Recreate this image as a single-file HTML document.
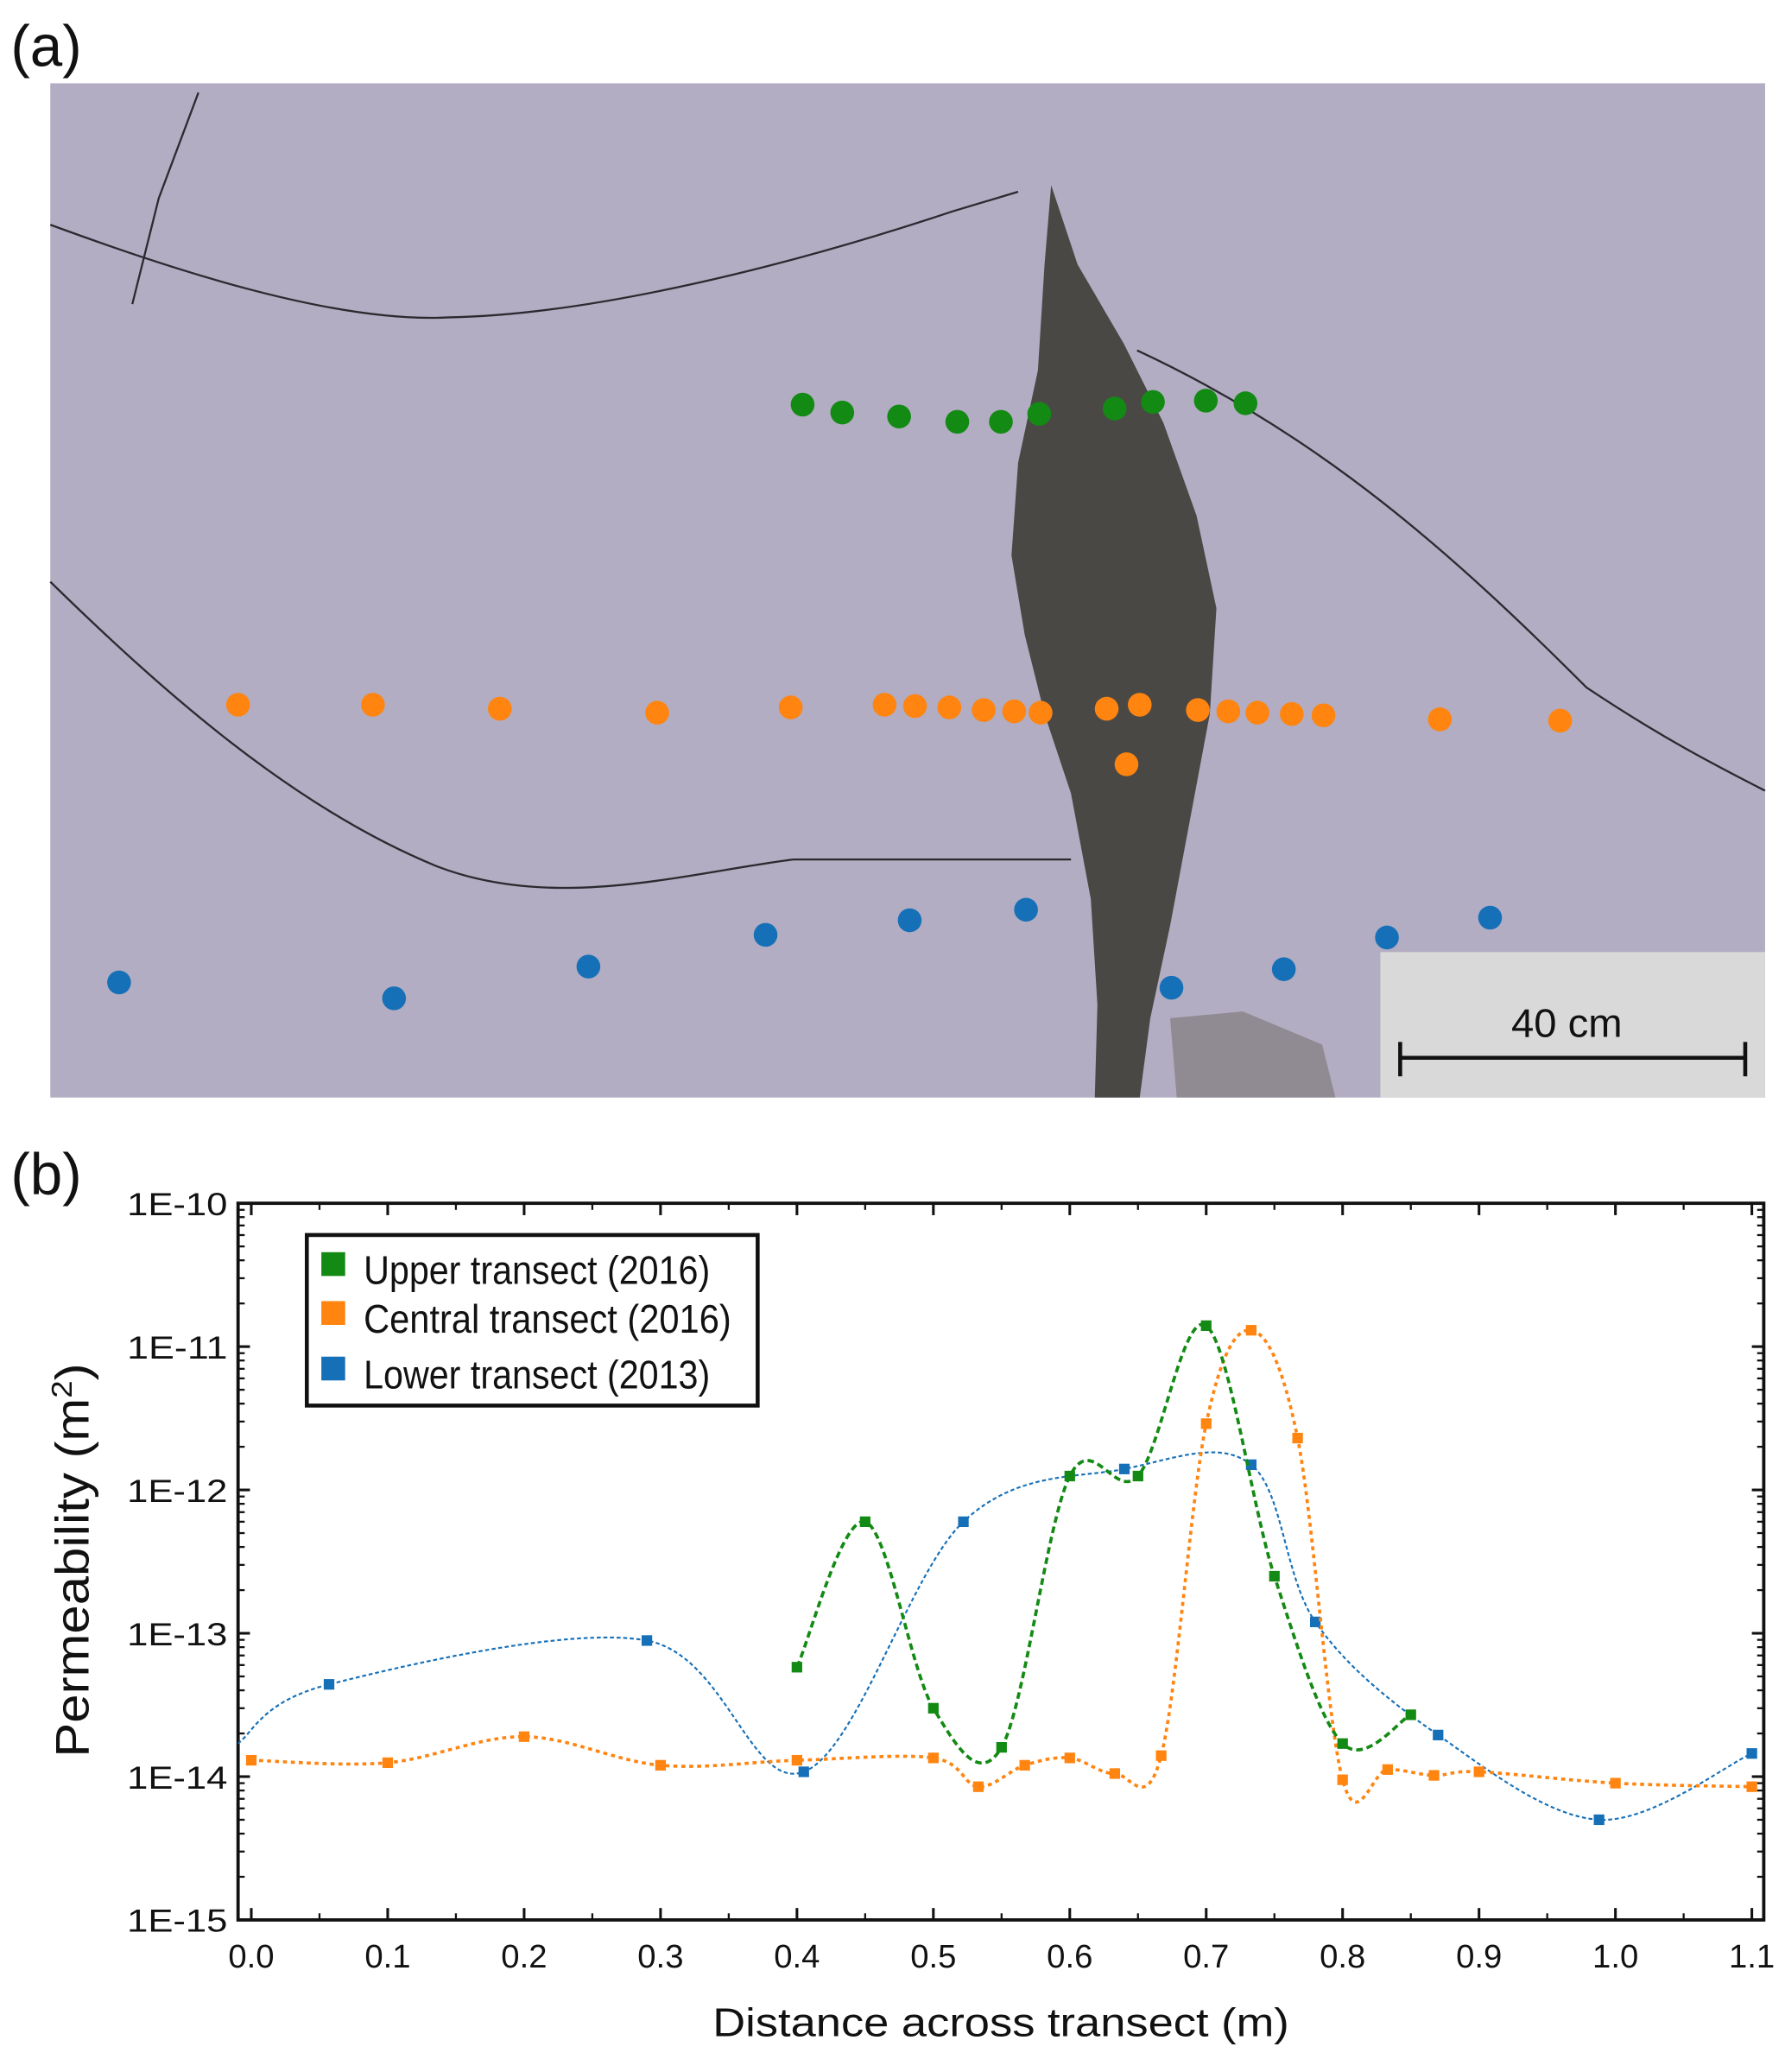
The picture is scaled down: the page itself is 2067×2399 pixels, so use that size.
<!DOCTYPE html>
<html><head><meta charset="utf-8"><style>
html,body{margin:0;padding:0;background:#fff;}
svg{display:block;}
text{font-family:"Liberation Sans",Arial,sans-serif;fill:#111;}
</style></head><body>
<svg id="fig" width="2067" height="2399" viewBox="0 0 1350 1567" xmlns="http://www.w3.org/2000/svg">
<text x="8" y="50" font-size="44">(a)</text>
<g>
 <rect x="38" y="63" width="1297" height="767" fill="#aca8bd"/>
 <rect x="38" y="63" width="1297" height="767" fill="#bcb8cc" opacity="0.35"/>
 <polygon fill="#3b3a33" opacity="0.88" points="795,140 815,200 850,260 880,320 905,390 920,460 915,540 900,620 885,700 870,770 862,830 828,830 830,760 825,680 810,600 790,540 775,480 765,420 770,350 785,280 790,200"/>
 <polygon fill="#6d6a62" opacity="0.5" points="885,770 940,765 1000,790 1010,830 890,830"/>
 <g fill="none" stroke="#2a2a30" stroke-width="1.5">
  <path d="M38,170 C120,200 250,245 340,240 C450,238 600,200 720,160 L770,145"/>
  <path d="M38,440 C120,520 220,610 330,655 C420,690 520,660 600,650 L810,650"/>
  <path d="M860,265 C1000,330 1100,420 1200,520 C1260,560 1300,580 1335,598"/>
  <path d="M150,70 L120,150 L100,230"/>
 </g>
 <rect x="1044" y="720" width="291" height="110" fill="#d9d9d9"/>
 <text x="1185" y="784" font-size="30" text-anchor="middle" textLength="84" lengthAdjust="spacingAndGlyphs">40 cm</text>
 <g stroke="#111" stroke-width="3">
  <line x1="1059" y1="800" x2="1320" y2="800"/><line x1="1059" y1="788" x2="1059" y2="814"/><line x1="1320" y1="788" x2="1320" y2="814"/>
 </g>
 <g id="dots"></g>
</g>
<text x="8" y="903" font-size="44">(b)</text>
<g id="chart"></g>
</svg>
<script>
// photo sample dots (display coordinates on photo)
const greenDotsX=[607,637,680,724,757,786,843,872,912,942];
const greenDotsY=[306,312,315,319,319,313,309,304,303,305];
const orangeDotsX=[180,282,378,497,598,669,692,718,744,767,787,837,862,906,929,951,977,1001,1089,1180,852];
const orangeDotsY=[533,533,536,539,535,533,534,535,537,538,539,536,533,537,538,539,540,541,544,545,578];
const blueDotsX=[90,298,445,579,688,776,886,971,1049,1127];
const blueDotsY=[743,755,731,707,696,688,747,733,709,694];

// chart data
const xTicks=[0,0.1,0.2,0.3,0.4,0.5,0.6,0.7,0.8,0.9,1.0,1.1];
const yTickExp=[-10,-11,-12,-13,-14,-15];
const upperX=[0.40,0.45,0.50,0.55,0.60,0.65,0.70,0.75,0.80,0.85];
const upperY=[5.8e-14,6e-13,3e-14,1.6e-14,1.25e-12,1.25e-12,1.4e-11,2.5e-13,1.7e-14,2.7e-14];
const centralX=[0.0,0.1,0.2,0.3,0.4,0.5,0.533,0.567,0.6,0.633,0.667,0.70,0.733,0.767,0.80,0.833,0.867,0.90,1.0,1.1];
const centralY=[1.3e-14,1.25e-14,1.9e-14,1.2e-14,1.3e-14,1.35e-14,8.5e-15,1.2e-14,1.35e-14,1.05e-14,1.4e-14,2.9e-12,1.3e-11,2.3e-12,9.5e-15,1.12e-14,1.02e-14,1.08e-14,9e-15,8.5e-15];
const lowerX=[-0.01,0.057,0.29,0.405,0.522,0.64,0.733,0.78,0.87,0.988,1.1];
const lowerY=[1.7e-14,4.4e-14,8.9e-14,1.08e-14,6e-13,1.4e-12,1.5e-12,1.2e-13,1.95e-14,5e-15,1.45e-14];

const NS="http://www.w3.org/2000/svg";
const L=180,R=1334,T=910,B=1452;
function xs(v){return 190+v*(1325-190)/1.1;}
function ys(v){return T+(-10-Math.log10(v))*108.4;}
function mk(tag,attrs,parent){const e=document.createElementNS(NS,tag);for(const k in attrs)e.setAttribute(k,attrs[k]);parent.appendChild(e);return e;}

const dots=document.getElementById('dots');
function drawDots(xa,ya,col,name){
 for(let i=0;i<xa.length;i++){
  const c=mk('circle',{cx:xa[i],cy:ya[i],r:9,fill:col},dots);
  
  
 }
}
drawDots(greenDotsX,greenDotsY,'#138a13','upper-sample-dot');
drawDots(orangeDotsX,orangeDotsY,'#ff8410','central-sample-dot');
drawDots(blueDotsX,blueDotsY,'#1670b8','lower-sample-dot');

const ch=document.getElementById('chart');
const clip=mk('clipPath',{id:'pc'},ch);mk('rect',{x:L,y:T,width:R-L,height:B-T},clip);
const frame=mk('rect',{x:L,y:T,width:R-L,height:B-T,fill:'none',stroke:'#111','stroke-width':2.5},ch);


for(let i=0;i<xTicks.length;i++){
 const x=xs(xTicks[i]);
 mk('line',{x1:x,y1:B,x2:x,y2:B-9,stroke:'#111','stroke-width':2},ch);
 mk('line',{x1:x,y1:T,x2:x,y2:T+9,stroke:'#111','stroke-width':2},ch);
 if(i<xTicks.length-1){const xm=xs(xTicks[i]+0.05);
  mk('line',{x1:xm,y1:B,x2:xm,y2:B-5,stroke:'#111','stroke-width':1.5},ch);
  mk('line',{x1:xm,y1:T,x2:xm,y2:T+5,stroke:'#111','stroke-width':1.5},ch);}
 const t=mk('text',{x:x,y:B+36,'font-size':25,'text-anchor':'middle'},ch);
 t.textContent=xTicks[i].toFixed(1);
 
 
}
for(let i=0;i<yTickExp.length;i++){
 const y=ys(Math.pow(10,yTickExp[i]));
 mk('line',{x1:L,y1:y,x2:L+9,y2:y,stroke:'#111','stroke-width':2},ch);
 mk('line',{x1:R,y1:y,x2:R-9,y2:y,stroke:'#111','stroke-width':2},ch);
 if(yTickExp[i]>-15){for(let m=2;m<=9;m++){const ym=ys(m*Math.pow(10,yTickExp[i]-1));
  mk('line',{x1:L,y1:ym,x2:L+5,y2:ym,stroke:'#111','stroke-width':1.5},ch);
  mk('line',{x1:R,y1:ym,x2:R-5,y2:ym,stroke:'#111','stroke-width':1.5},ch);}}
 const t=mk('text',{x:L-8,y:y+9,'font-size':24,'text-anchor':'end',textLength:76,lengthAdjust:'spacingAndGlyphs'},ch);
 t.textContent='1E'+yTickExp[i];
 
 
}
const xt=mk('text',{x:757,y:1540,'font-size':30,'text-anchor':'middle',textLength:436,lengthAdjust:'spacingAndGlyphs'},ch);
xt.textContent='Distance across transect (m)';


const yt=mk('text',{x:0,y:0,'font-size':36,'text-anchor':'middle',textLength:298,lengthAdjust:'spacingAndGlyphs',transform:'translate(67,1180) rotate(-90)'},ch);
yt.innerHTML='Permeability (m<tspan font-size="22" dy="-13">2</tspan><tspan dy="13">)</tspan>';



function spline(xa,ya){
 const p=xa.map((x,i)=>[xs(x),ys(ya[i])]);
 let d='M'+p[0][0]+','+p[0][1];
 for(let i=0;i<p.length-1;i++){
  const p0=p[i-1]||p[i],p1=p[i],p2=p[i+1],p3=p[i+2]||p[i+1];
  const c1=[p1[0]+(p2[0]-p0[0])/6,p1[1]+(p2[1]-p0[1])/6];
  const c2=[p2[0]-(p3[0]-p1[0])/6,p2[1]-(p3[1]-p1[1])/6];
  d+=' C'+c1+' '+c2+' '+p2;
 }
 return d;
}
function series(xa,ya,col,w,dash,name,skipFirst){
 const pth=mk('path',{d:spline(xa,ya),fill:'none',stroke:col,'stroke-width':w,'stroke-dasharray':dash,'clip-path':'url(#pc)'},ch);
 
 
 for(let i=skipFirst?1:0;i<xa.length;i++){
  const r=mk('rect',{x:xs(xa[i])-4,y:ys(ya[i])-4,width:8,height:8,fill:col},ch);
  
  
 }
}
series(lowerX,lowerY,'#1670b8',1.4,'3,2','lower-transect',true);
series(centralX,centralY,'#ff8410',2.4,'3,3','central-transect',false);
series(upperX,upperY,'#138a13',2.4,'5,3','upper-transect',false);

const lg=mk('g',{},ch);


mk('rect',{x:232,y:934,width:341,height:129,fill:'#fff',stroke:'#111','stroke-width':3},lg);
const legNames=['Upper transect (2016)','Central transect (2016)','Lower transect (2013)'];
const legCols=['#138a13','#ff8410','#1670b8'];
const legY=[960,997,1039];
const legW=[262,278,262];
for(let i=0;i<3;i++){
 const s=mk('rect',{x:243,y:legY[i]-13,width:18,height:18,fill:legCols[i]},lg);
 
 
 const t=mk('text',{x:275,y:legY[i]+11,'font-size':30,textLength:legW[i],lengthAdjust:'spacingAndGlyphs'},lg);
 t.textContent=legNames[i];
 
 
}
</script>
</body></html>
